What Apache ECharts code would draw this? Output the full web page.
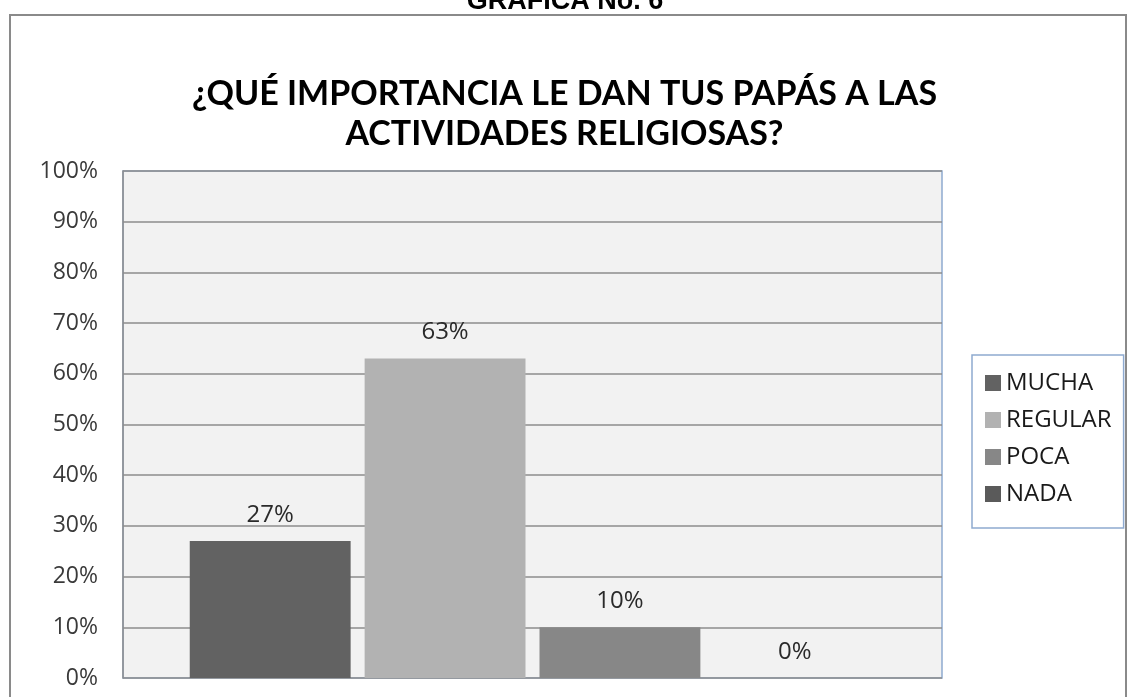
<!DOCTYPE html>
<html>
<head>
<meta charset="utf-8">
<script src="https://cdn.jsdelivr.net/npm/echarts@6/dist/echarts.min.js"></script>
<style>
  html, body { margin: 0; padding: 0; background: #fff; }
  #main { width: 1129px; height: 697px; }
</style>
</head>
<body>
<div id="main"></div>
<script>
// datos de la gráfica
const categorias = [''];
const nombresSeries = ['MUCHA', 'REGULAR', 'POCA', 'NADA'];
const valores = [27, 63, 10, 0];
const colores = ['#626262', '#b2b2b2', '#878787', '#5a5a5a'];
const ticksY = [0, 10, 20, 30, 40, 50, 60, 70, 80, 90, 100];

const myChart = echarts.init(document.getElementById('main'));

const series = nombresSeries.map((nombre, i) => ({
  name: nombre,
  type: 'bar',
  data: [valores[i]],
  barGap: '8.7%',
  barCategoryGap: '16.3%',
  itemStyle: { color: colores[i] },
  label: {
    show: true,
    position: 'top',
    distance: 14,
    formatter: '{c}%',
    fontFamily: 'Open Sans',
    fontSize: 24,
    color: '#2a2a2a'
  }
}));

const option = {
  animation: false,
  backgroundColor: '#fff',
  textStyle: { fontFamily: 'Open Sans' },
  title: {
    text: '¿QUÉ IMPORTANCIA LE DAN TUS PAPÁS A LAS\nACTIVIDADES RELIGIOSAS?',
    left: 'center',
    top: 69,
    textStyle: {
      fontFamily: 'Lato',
      fontWeight: 'bold',
      fontSize: 34,
      lineHeight: 40,
      color: '#000'
    }
  },
  graphic: [
    {
      type: 'rect',
      shape: { x: 10, y: 15, width: 1116, height: 700 },
      style: { fill: 'none', stroke: '#8a8a8a', lineWidth: 2 },
      silent: true,
      z: -1
    },
    {
      type: 'text',
      x: 565,
      y: 15,
      style: {
        text: 'GRÁFICA No. 6',
        font: 'bold 27px "Liberation Sans", Arial, sans-serif',
        fill: '#000',
        align: 'center',
        verticalAlign: 'bottom'
      }
    }
  ],
  legend: {
    orient: 'vertical',
    left: 972,
    top: 355,
    data: nombresSeries,
    itemWidth: 16,
    itemHeight: 16,
    itemGap: 13,
    padding: [16, 12, 22, 13],
    borderColor: '#8eaad0',
    borderWidth: 1.5,
    backgroundColor: '#fff',
    icon: 'rect',
    textStyle: {
      fontFamily: 'Open Sans',
      fontSize: 24,
      lineHeight: 22,
      color: '#1a1a1a'
    }
  },
  grid: {
    left: 123,
    top: 171,
    right: 187,
    bottom: 19,
    show: true,
    backgroundColor: '#f2f2f2',
    borderColor: '#8eaad0',
    borderWidth: 1.5
  },
  xAxis: {
    type: 'category',
    data: categorias,
    axisLine: { show: false },
    axisTick: { show: false },
    axisLabel: { show: false }
  },
  yAxis: {
    type: 'value',
    min: ticksY[0],
    max: ticksY[ticksY.length - 1],
    interval: 10,
    axisLine: { show: true, lineStyle: { color: '#8c8c8c', width: 1.5 } },
    axisTick: { show: false },
    axisLabel: {
      formatter: '{value}%',
      fontFamily: 'Open Sans',
      fontSize: 23,
      color: '#3a3a3a',
      margin: 25
    },
    splitLine: { show: true, lineStyle: { color: '#8c8c8c', width: 1.5 } }
  },
  series: series
};

myChart.setOption(option);
</script>
</body>
</html>
